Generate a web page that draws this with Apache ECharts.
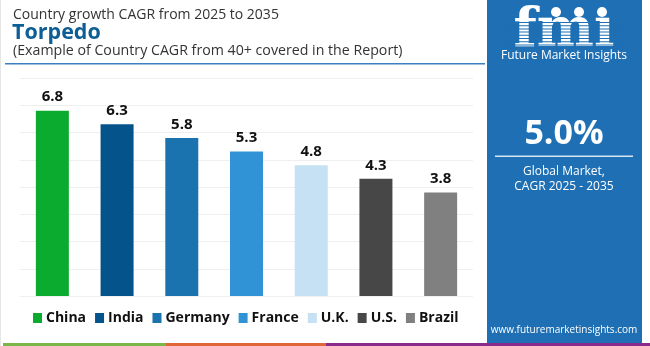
<!DOCTYPE html>
<html><head><meta charset="utf-8">
<script src="https://cdn.jsdelivr.net/npm/echarts@6/dist/echarts.min.js"></script>
<style>html,body{margin:0;padding:0;background:#fff}#c{width:650px;height:346px}</style>
</head><body><div id="c"></div>
<script>
var categories = ['China','India','Germany','France','U.K.','U.S.','Brazil'];
var values = [6.8, 6.3, 5.8, 5.3, 4.8, 4.3, 3.8];
var colors = ['#0aab2f','#04548b','#1a73ae','#3093d6','#c6e1f3','#474747','#808080'];
var yTicks = [0,1,2,3,4,5,6,7,8];
var FONT = 'Open Sans';
var chart = echarts.init(document.getElementById('c'), null, {renderer:'canvas'});
var series = categories.map(function(name, i){
  return {
    name: name, type:'bar', stack:'s', barWidth:33,
    itemStyle:{color:colors[i]},
    label:{show:true, position:'top', color:'#111', fontWeight:'bold', fontSize:15, fontFamily:FONT, distance:6},
    data: categories.map(function(c,j){ return j===i ? values[i] : '-'; })
  };
});
var stripes = [];
for (var yy = 22; yy < 48; yy += 3.2) {
  stripes.push({type:'rect', shape:{x:505, y:yy, width:118, height:1}, style:{fill:'#1e6fb4'}});
}
chart.setOption({
  animation:false,
  grid:{left:20, right:177, top:78, bottom:50},
  xAxis:{type:'category', data:categories, axisLine:{show:false}, axisTick:{show:false}, axisLabel:{show:false}},
  yAxis:{type:'value', min:yTicks[0], max:yTicks[yTicks.length-1], interval:1, axisLabel:{show:false}, axisLine:{show:false}, axisTick:{show:false}, splitLine:{lineStyle:{color:'#efefef'}}},
  legend:{bottom:16, left:28, itemWidth:9, itemHeight:10, itemGap:9, icon:'rect', textStyle:{fontSize:14, fontWeight:'bold', color:'#111', fontFamily:FONT, padding:[0,0,0,-1]}, data:categories},
  series: series,
  graphic:[
    {type:'rect', shape:{x:0,y:0,width:1,height:346}, style:{fill:'#e6e6e6'}},
    {type:'text', left:13, top:8, style:{text:'Country growth CAGR from 2025 to 2035', fontSize:14, fill:'#333', fontFamily:FONT}},
    {type:'text', left:12, top:22, style:{text:'Torpedo', fontSize:21.5, fontWeight:'bold', fill:'#0d5e94', fontFamily:FONT}},
    {type:'text', left:13, top:44, style:{text:'(Example of Country CAGR from 40+ covered in the Report)', fontSize:14.2, fill:'#333', fontFamily:FONT}},
    {type:'rect', shape:{x:5,y:63,width:480,height:1.5}, style:{fill:'#3a7fc0'}},
    {type:'rect', shape:{x:487,y:0,width:155,height:343}, style:{fill:'#1e6fb4'}},
    {type:'text', x:564, y:5, style:{text:'fmı', fontSize:54, fontWeight:'bold', fill:'#fff', fontFamily:'DejaVu Serif', align:'center'}},
    {type:'group', children: stripes},
    {type:'circle', shape:{cx:556, cy:12, r:5}, style:{fill:'#fff'}},
    {type:'circle', shape:{cx:579, cy:12, r:5}, style:{fill:'#fff'}},
    {type:'circle', shape:{cx:602, cy:12, r:5}, style:{fill:'#fff'}},
    {type:'text', x:564, y:50, style:{text:'Future Market Insights', fontSize:12, fill:'#fff', fontFamily:FONT, align:'center'}},
    {type:'text', x:564, y:117, style:{text:'5.0%', fontSize:34, fontWeight:'bold', fill:'#fff', fontFamily:FONT, align:'center'}},
    {type:'rect', shape:{x:495,y:155.5,width:138,height:1.5}, style:{fill:'#d7e6f3'}},
    {type:'text', x:564, y:164, style:{text:'Global Market,\nCAGR 2025 - 2035', fontSize:12, lineHeight:15, fill:'#fff', fontFamily:FONT, align:'center'}},
    {type:'text', x:564, y:325, style:{text:'www.futuremarketinsights.com', fontSize:10, fill:'#fff', fontFamily:FONT, align:'center'}},
    {type:'rect', shape:{x:3,y:343,width:163,height:3}, style:{fill:'#7ab648'}},
    {type:'rect', shape:{x:166,y:343,width:160,height:3}, style:{fill:'#e0663a'}},
    {type:'rect', shape:{x:326,y:343,width:324,height:3}, style:{fill:'#8a2a8a'}}
  ]
});
</script></body></html>
